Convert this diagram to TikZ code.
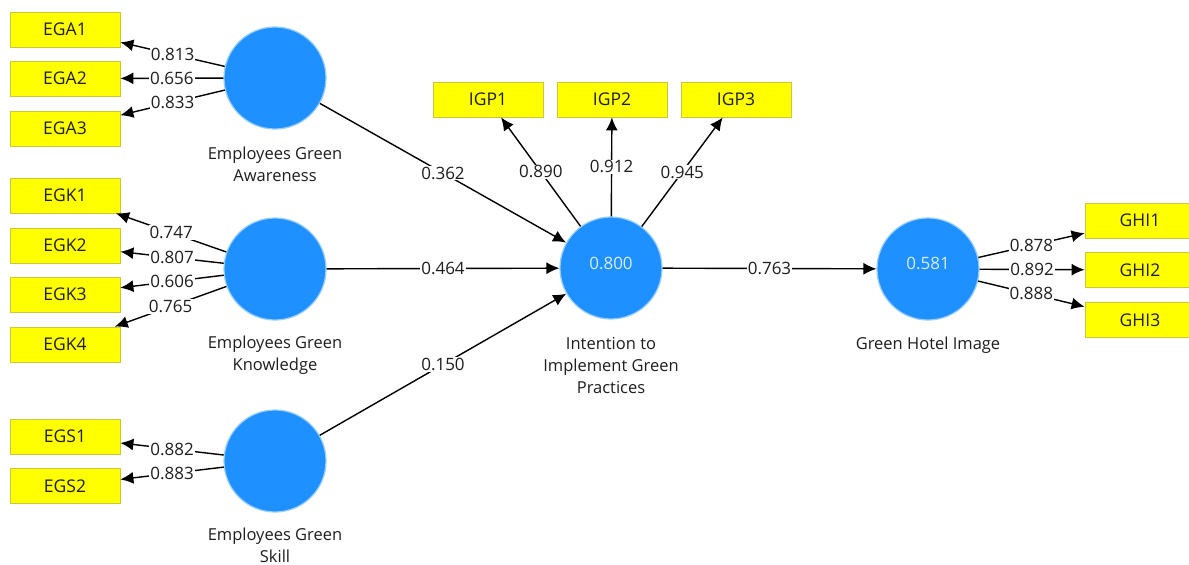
\documentclass[tikz,border=0pt]{standalone}
\usepackage{fontspec}
\setmainfont{Open Sans}
\usetikzlibrary{arrows.meta}
\definecolor{boxfill}{RGB}{255,255,0}
\definecolor{boxline}{RGB}{200,200,60}
\definecolor{lvfill}{RGB}{30,144,255}
\definecolor{lvline}{RGB}{150,205,250}
\definecolor{txt}{RGB}{30,30,30}
\definecolor{valtxt}{RGB}{215,235,255}
\begin{document}
\begin{tikzpicture}[x=1pt,y=-1pt,
 ind/.style={draw=boxline, fill=boxfill, line width=0.8pt, minimum width=110pt, minimum height=35pt, inner sep=0pt, font=\fontsize{17.5}{20}\selectfont, text=txt},
 lv/.style={circle, draw=lvline, fill=lvfill, line width=1.2pt, minimum size=102pt, inner sep=0pt},
 lvcap/.style={align=center, font=\fontsize{16.5}{22}\selectfont, text=txt},
 val/.style={font=\fontsize{17}{20}\selectfont, text=valtxt},
 conn/.style={line width=1.4pt, draw=black, -{Latex[length=13pt,width=12pt]}},
 w/.style={fill=white, inner sep=1pt, font=\fontsize{17}{20}\selectfont, text=txt},
]
\fill[white] (0,0) rectangle (1189,565);
\useasboundingbox (0,0) rectangle (1189,565);

% indicator boxes
\node[ind] (EGA1) at (65,29.5) {EGA1};
\node[ind] (EGA2) at (65,78.5) {EGA2};
\node[ind] (EGA3) at (65,128.5) {EGA3};
\node[ind] (EGK1) at (65,195.5) {EGK1};
\node[ind] (EGK2) at (65,245.5) {EGK2};
\node[ind] (EGK3) at (65,294.5) {EGK3};
\node[ind] (EGK4) at (65,344.5) {EGK4};
\node[ind] (EGS1) at (65,436.5) {EGS1};
\node[ind] (EGS2) at (65,486) {EGS2};
\node[ind] (IGP1) at (488,99.5) {IGP1};
\node[ind] (IGP2) at (612,99.5) {IGP2};
\node[ind] (IGP3) at (736,99.5) {IGP3};
\node[ind] (GHI1) at (1140,220.5) {GHI1};
\node[ind] (GHI2) at (1140,270) {GHI2};
\node[ind] (GHI3) at (1140,320) {GHI3};

% latent variables
\node[lv] (EGA) at (275,78) {};
\node[lv] (EGK) at (275,269) {};
\node[lv] (EGS) at (275,461) {};
\node[lv] (IGP) at (611,268) {};
\node[lv] (GHI) at (928,269) {};
\node[val] (IGPv) at (611,263) {0.800};
\node[val] (GHIv) at (928,263) {0.581};

\node[lvcap] (EGAc) at (275,164) {Employees Green\\Awareness};
\node[lvcap] (EGKc) at (275,355.5) {Employees Green\\Knowledge};
\node[lvcap] (EGSc) at (275,545.5) {Employees Green\\Skill};
\node[lvcap] (IGPc) at (611,366) {Intention to\\Implement Green\\Practices};
\node[lvcap] (GHIc) at (928,345) {Green Hotel Image};

% outer loadings
\draw[conn] (EGA) -- node[w]{0.813} (EGA1);
\draw[conn] (EGA) -- node[w]{0.656} (EGA2);
\draw[conn] (EGA) -- node[w]{0.833} (EGA3);
\draw[conn] (EGK) -- node[w]{0.747} (EGK1);
\draw[conn] (EGK) -- node[w]{0.807} (EGK2);
\draw[conn] (EGK) -- node[w]{0.606} (EGK3);
\draw[conn] (EGK) -- node[w]{0.765} (EGK4);
\draw[conn] (EGS) -- node[w]{0.882} (EGS1);
\draw[conn] (EGS) -- node[w]{0.883} (EGS2);
\draw[conn] (IGP) -- node[w]{0.890} (IGP1);
\draw[conn] (IGP) -- node[w]{0.912} (IGP2);
\draw[conn] (IGP) -- node[w]{0.945} (IGP3);
\draw[conn] (GHI) -- node[w]{0.878} (GHI1);
\draw[conn] (GHI) -- node[w]{0.892} (GHI2);
\draw[conn] (GHI) -- node[w]{0.888} (GHI3);

% path coefficients
\draw[conn] (EGA) -- node[w]{0.362} (IGP);
\draw[conn] (EGK) -- node[w]{0.464} (IGP);
\draw[conn] (EGS) -- node[w]{0.150} (IGP);
\draw[conn] (IGP) -- node[w]{0.763} (GHI);
\end{tikzpicture}
\end{document}
